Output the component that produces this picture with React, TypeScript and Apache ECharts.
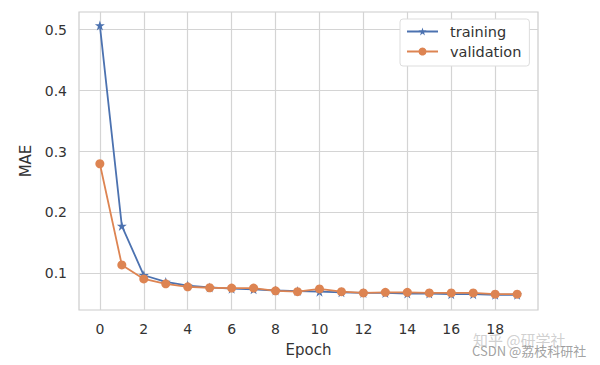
import React, { useEffect, useRef } from "react";
import * as echarts from "echarts";

const epochs = [0, 1, 2, 3, 4, 5, 6, 7, 8, 9, 10, 11, 12, 13, 14, 15, 16, 17, 18, 19];
const training = [0.507, 0.178, 0.097, 0.086, 0.080, 0.077, 0.075, 0.074, 0.072, 0.071, 0.070, 0.069, 0.068, 0.068, 0.067, 0.067, 0.066, 0.066, 0.065, 0.065];
const validation = [0.280, 0.114, 0.091, 0.083, 0.078, 0.0765, 0.076, 0.076, 0.0715, 0.070, 0.0745, 0.070, 0.068, 0.069, 0.069, 0.068, 0.068, 0.068, 0.066, 0.066];
const seriesNames = ["training", "validation"];
const xTickValues = [0, 2, 4, 6, 8, 10, 12, 14, 16, 18];
const yTickValues = [0.1, 0.2, 0.3, 0.4, 0.5];

const FONT = "DejaVu Sans";
const TEXT = "#333333";

export default function App() {
  const ref = useRef<HTMLDivElement>(null);
  useEffect(() => {
    if (!ref.current) return;
    const chart = echarts.init(ref.current, undefined, { renderer: "svg" });
    chart.setOption({
      animation: false,
      backgroundColor: "#ffffff",
      textStyle: { fontFamily: FONT },
      grid: { left: 79, top: 12, width: 459, height: 298, show: true, borderColor: "#cccccc", borderWidth: 1.2, backgroundColor: "transparent" },
      legend: {
        orient: "vertical",
        left: 400,
        top: 19,
        padding: [5, 8, 7, 6],
        itemGap: 5,
        itemWidth: 31,
        itemHeight: 10,
        borderColor: "#dddddd",
        borderWidth: 1,
        borderRadius: 3,
        backgroundColor: "#ffffff",
        textStyle: { fontFamily: FONT, fontSize: 14.5, color: TEXT, padding: [0, 0, 0, 7] },
        data: seriesNames,
      },
      xAxis: {
        type: "value",
        min: -0.95,
        max: 19.95,
        name: "Epoch",
        nameLocation: "middle",
        nameGap: 32,
        nameTextStyle: { fontFamily: FONT, fontSize: 15, color: TEXT },
        axisLine: { show: false },
        axisTick: { show: false, customValues: xTickValues },
        axisLabel: {
          fontFamily: FONT,
          fontSize: 14,
          color: TEXT,
          margin: 12,
          customValues: xTickValues,
        },
        splitLine: { show: true, lineStyle: { color: "#d4d4d4", width: 1.2 } },
      },
      yAxis: {
        type: "value",
        min: 0.04,
        max: 0.529,
        name: "MAE",
        nameLocation: "middle",
        nameGap: 46,
        nameRotate: 90,
        nameTextStyle: { fontFamily: FONT, fontSize: 15, color: TEXT },
        axisLine: { show: false },
        axisTick: { show: false, customValues: yTickValues },
        axisLabel: {
          fontFamily: FONT,
          fontSize: 14,
          color: TEXT,
          margin: 12,
          customValues: yTickValues,
          formatter: (v: number) => v.toFixed(1),
        },
        splitLine: { show: true, lineStyle: { color: "#d4d4d4", width: 1.2 } },
      },
      series: [
        {
          name: seriesNames[0],
          type: "line",
          data: epochs.map((e, i) => [e, training[i]]),
          symbol: "path://M50,0 L61.8,36.2 L100,36.2 L69.1,58.8 L80.9,95.1 L50,72.7 L19.1,95.1 L30.9,58.8 L0,36.2 L38.2,36.2 Z",
          symbolSize: 10,
          itemStyle: { color: "#4c72b0" },
          lineStyle: { color: "#4c72b0", width: 1.8 },
          z: 2,
        },
        {
          name: seriesNames[1],
          type: "line",
          data: epochs.map((e, i) => [e, validation[i]]),
          symbol: "circle",
          symbolSize: 9,
          itemStyle: { color: "#dd8452" },
          lineStyle: { color: "#dd8452", width: 1.8 },
          z: 3,
        },
      ],
      graphic: [
        {
          type: "text",
          left: 473,
          top: 332,
          style: { text: "知乎 @研学社", fontFamily: "Noto Sans CJK SC", fontSize: 15, fill: "rgba(200,200,200,0.85)" },
        },
        {
          type: "text",
          left: 472,
          top: 344,
          style: { text: "CSDN @荔枝科研社", fontFamily: "Noto Sans CJK SC", fontSize: 13, fill: "rgba(150,150,150,0.9)" },
        },
      ],
    });
    return () => chart.dispose();
  }, []);
  return <div ref={ref} style={{ width: 600, height: 365, position: "absolute", left: 0, top: 0 }} />;
}
